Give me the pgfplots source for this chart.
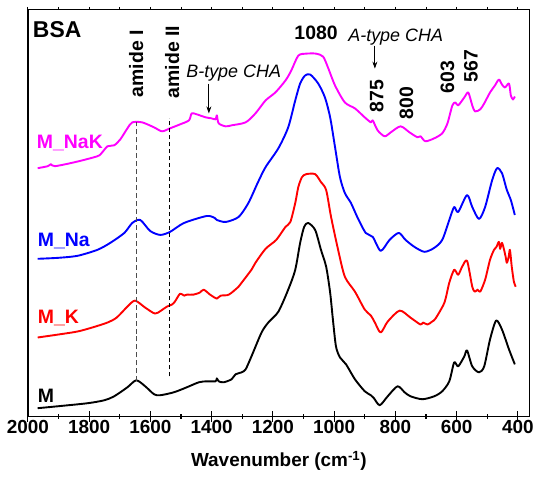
\documentclass[border=0pt]{standalone}
\usepackage{pgfplots}
\pgfplotsset{compat=1.18}
\usepackage{fontspec}
\setmainfont{Liberation Sans}
\usetikzlibrary{arrows.meta}

\definecolor{mag}{RGB}{255,0,255}
\definecolor{blu}{RGB}{0,0,255}
\definecolor{rd}{RGB}{255,0,0}

\newcommand{\bigbf}{\bfseries\fontsize{19.5}{20}\selectfont}
\newcommand{\tickbf}{\bfseries\fontsize{19}{20}\selectfont}
\newcommand{\bigit}{\itshape\fontsize{18}{18}\selectfont}

\begin{document}
\begin{tikzpicture}
\begin{axis}[
  width=504pt, height=408pt, scale only axis,
  x dir=reverse, xmin=361, xmax=2000, ymin=0, ymax=408,
  xtick={400,600,...,2000}, minor x tick num=1, ytick=\empty,
  xtick pos=left,
  tick align=center, major tick length=11pt, minor tick length=5pt,
  every tick/.style={black, line width=1.2pt},
  axis line style={line width=1.3pt},
  /pgf/number format/assume math mode=true,
  /pgf/number format/1000 sep={},
  xticklabel style={font=\tickbf, yshift=5pt},
  xlabel={Wavenumber (cm\textsuperscript{-1})},
  xlabel style={font=\tickbf, yshift=-11pt},
  every axis plot/.append style={line width=1.9pt, line join=round, smooth, tension=0.45},
]

% M
\addplot[black] coordinates {
(1968,8) (1900,10) (1805,13) (1750,16) (1718,20) (1675,29) (1646,36) (1617,30)
(1588,22) (1568,21) (1523,24) (1481,29) (1442,34) (1416,35) (1387,35) (1383,38)
(1377,35) (1361,34) (1335,37) (1322,42) (1302,44) (1289,47) (1270,60) (1237,84)
(1215,94) (1182,105) (1150,127) (1127,147) (1111,174) (1098,190) (1085,194)
(1062,187) (1043,167) (1026,150) (1013,124) (1004,97) (994,70) (981,59) (961,52)
(932,37) (900,25) (880,21) (870,18) (851,11) (825,20) (793,30) (770,24) (751,20)
(712,17) (673,20) (647,25) (624,35) (608,54) (595,50) (575,60) (566,66) (549,50)
(527,44) (510,50) (491,77) (471,96) (452,87) (429,67) (410,52)
};

% M_K
\addplot[rd] coordinates {
(1968,79) (1900,82) (1838,85) (1790,89) (1740,94) (1710,99) (1675,110) (1650,116)
(1617,109) (1585,103) (1565,106) (1546,110) (1530,112) (1520,115) (1503,123)
(1490,121) (1481,122) (1460,122) (1439,124) (1426,127) (1405,122) (1390,119)
(1383,118) (1370,121) (1344,122) (1312,130) (1302,134) (1270,147) (1257,154)
(1224,168) (1189,177) (1159,190) (1143,195) (1127,214) (1117,230) (1105,240)
(1091,243) (1062,243) (1043,235) (1026,227) (1010,200) (987,167) (965,140)
(932,125) (900,107) (880,101) (867,94) (848,84) (825,95) (786,106) (751,99)
(718,92) (710,94) (695,92) (680,95) (669,98) (640,114) (624,134) (608,147)
(595,142) (582,150) (566,156) (549,130) (540,125) (532,127) (523,125) (507,137)
(491,157) (478,167) (470,170) (462,175) (458,168) (452,174) (445,167) (440,160)
(436,154) (430,160) (426,167) (420,150) (413,135) (407,130)
};

% M_Na
\addplot[blu] coordinates {
(1968,158) (1900,159) (1838,161) (1773,167) (1731,174) (1685,184) (1659,194)
(1633,197) (1601,186) (1568,182) (1536,185) (1490,194) (1416,201) (1390,199)
(1383,197) (1354,195) (1312,200) (1280,214) (1250,234) (1224,250) (1182,269)
(1150,290) (1127,317) (1111,334) (1095,342) (1078,343) (1052,334) (1030,320)
(1013,300) (997,270) (981,240) (965,224) (945,214) (923,199) (897,184) (874,180)
(848,166) (819,177) (789,184) (767,177) (738,170) (705,165) (673,169) (647,177)
(624,197) (608,210) (595,205) (566,222) (549,210) (527,198) (507,210) (484,237)
(468,249) (452,244) (436,227) (423,217) (410,202)
};

% M_NaK
\addplot[mag] coordinates {
(1968,249) (1935,251) (1925,253) (1912,251) (1847,255) (1773,261) (1757,265)
(1740,271) (1718,272) (1698,278) (1675,289) (1659,295) (1627,295) (1588,290)
(1562,286) (1536,289) (1503,293) (1474,297) (1465,304) (1448,303) (1419,300)
(1400,299) (1387,298) (1383,302) (1377,294) (1354,291) (1335,292) (1289,295)
(1257,304) (1224,317) (1192,325) (1159,337) (1140,347) (1117,362) (1091,364)
(1059,364) (1036,361) (1020,350) (997,332) (965,315) (932,309) (900,300)
(880,295) (874,297) (858,287) (835,281) (815,285) (783,291) (754,285) (728,280)
(718,281) (702,276) (673,279) (647,284) (630,294) (614,312) (604,315) (595,312)
(575,320) (562,325) (549,312) (540,306) (523,308) (510,314) (491,325) (475,332)
(462,338) (452,333) (442,330) (429,334) (423,322) (416,318) (410,321)
};

% annotations
\draw[black!70, dashed, line width=0.9pt, dash pattern=on 5pt off 3pt]
  (axis cs:1646,35) -- (axis cs:1646,295);
\draw[black, dashed, line width=0.9pt, dash pattern=on 4pt off 3pt]
  (axis cs:1539,40) -- (axis cs:1539,299);
\node[rotate=90, anchor=west, inner sep=0pt, font=\bigbf] at (axis cs:1646,320) {amide I};
\node[rotate=90, anchor=west, inner sep=0pt, font=\bigbf] at (axis cs:1529,319) {amide II};
\node[anchor=west, inner sep=0pt, font=\bfseries\fontsize{23}{23}\selectfont] at (axis cs:1984,388) {BSA};
\node[font=\bigit, inner sep=0pt] at (axis cs:1328,344) {B-type CHA};
\draw[-{Stealth[length=7pt,width=5pt]}, line width=0.8pt] (axis cs:1409,334) -- (axis cs:1409,304);
\node[font=\bigbf, inner sep=0pt] at (axis cs:1059,385) {1080};
\node[font=\bigit, inner sep=0pt] at (axis cs:799,381) {A-type CHA};
\draw[-{Stealth[length=7pt,width=5pt]}, line width=0.8pt] (axis cs:867,372) -- (axis cs:867,349);
\node[rotate=90, anchor=west, inner sep=0pt, font=\bigbf] at (axis cs:861,305) {875};
\node[rotate=90, anchor=west, inner sep=0pt, font=\bigbf] at (axis cs:764,298) {800};
\node[rotate=90, anchor=west, inner sep=0pt, font=\bigbf] at (axis cs:630,324) {603};
\node[rotate=90, anchor=west, inner sep=0pt, font=\bigbf] at (axis cs:553,335) {567};
\node[anchor=west, inner sep=0pt, font=\bigbf, text=mag] at (axis cs:1971,274) {M\_NaK};
\node[anchor=west, inner sep=0pt, font=\bigbf, text=blu] at (axis cs:1968,176) {M\_Na};
\node[anchor=west, inner sep=0pt, font=\bigbf, text=rd] at (axis cs:1968,99) {M\_K};
\node[anchor=west, inner sep=0pt, font=\bigbf] at (axis cs:1968,20) {M};
\end{axis}

% short ticks along the top edge
\begin{axis}[
  width=504pt, height=408pt, scale only axis,
  x dir=reverse, xmin=361, xmax=2000, ymin=0, ymax=408,
  axis x line*=top, axis y line=none,
  xtick={400,500,...,2000}, xticklabels={},
  tick align=outside, major tick length=3pt,
  every tick/.style={black, line width=0.8pt},
  axis line style={line width=1.3pt},
]
\end{axis}

\path (current axis.south west) ++(-28pt,-62pt);
\path (current axis.north east) ++(5pt,9pt);
\end{tikzpicture}
\end{document}
